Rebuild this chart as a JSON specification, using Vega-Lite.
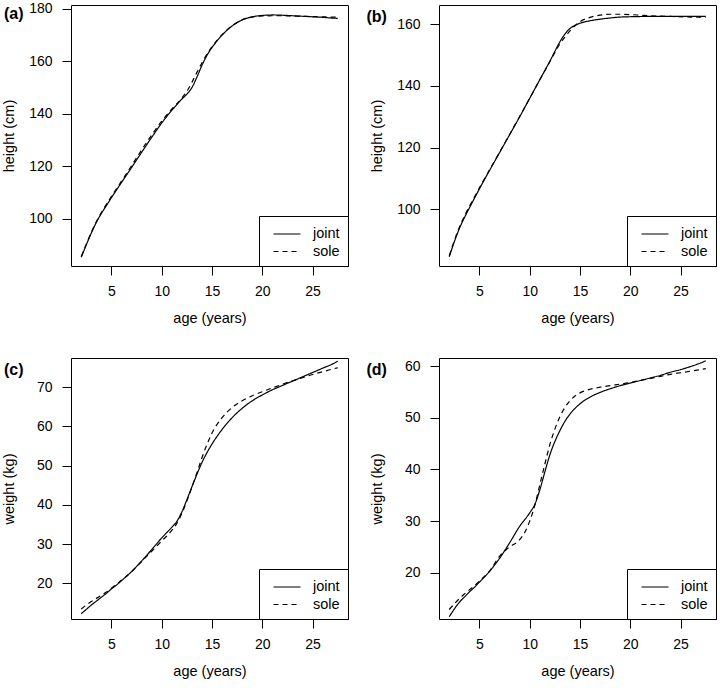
{
  "$schema": "https://vega.github.io/schema/vega-lite/v6.json",
  "autosize": {"type": "pad"},
  "padding": {"left": 0, "top": 1, "right": 0, "bottom": 10},
  "background": "white",
  "datasets": {
    "a": [
      {"age": 2, "value": 85.3, "fit": "joint"}, {"age": 2.5, "value": 90.0, "fit": "joint"}, {"age": 3, "value": 94.5, "fit": "joint"}, {"age": 3.5, "value": 98.6, "fit": "joint"}, {"age": 4, "value": 102.0, "fit": "joint"}, {"age": 4.5, "value": 105.0, "fit": "joint"}, {"age": 5, "value": 108.0, "fit": "joint"}, {"age": 6, "value": 113.8, "fit": "joint"}, {"age": 7, "value": 119.5, "fit": "joint"}, {"age": 8, "value": 125.3, "fit": "joint"}, {"age": 9, "value": 131.0, "fit": "joint"}, {"age": 10, "value": 136.5, "fit": "joint"}, {"age": 11, "value": 141.3, "fit": "joint"}, {"age": 12, "value": 145.6, "fit": "joint"}, {"age": 12.5, "value": 147.5, "fit": "joint"}, {"age": 13, "value": 150.0, "fit": "joint"}, {"age": 13.5, "value": 154.0, "fit": "joint"}, {"age": 14, "value": 158.5, "fit": "joint"}, {"age": 14.5, "value": 162.3, "fit": "joint"}, {"age": 15, "value": 165.3, "fit": "joint"}, {"age": 15.5, "value": 167.8, "fit": "joint"}, {"age": 16, "value": 170.0, "fit": "joint"}, {"age": 17, "value": 173.5, "fit": "joint"}, {"age": 18, "value": 175.8, "fit": "joint"}, {"age": 19, "value": 177.0, "fit": "joint"}, {"age": 20, "value": 177.5, "fit": "joint"}, {"age": 21, "value": 177.7, "fit": "joint"}, {"age": 22, "value": 177.6, "fit": "joint"}, {"age": 23, "value": 177.4, "fit": "joint"}, {"age": 24, "value": 177.2, "fit": "joint"}, {"age": 25, "value": 177.0, "fit": "joint"}, {"age": 26, "value": 176.8, "fit": "joint"}, {"age": 27, "value": 176.5, "fit": "joint"}, {"age": 27.5, "value": 176.4, "fit": "joint"},
      {"age": 2, "value": 85.6, "fit": "sole"}, {"age": 2.5, "value": 90.3, "fit": "sole"}, {"age": 3, "value": 94.8, "fit": "sole"}, {"age": 3.5, "value": 98.8, "fit": "sole"}, {"age": 4, "value": 102.3, "fit": "sole"}, {"age": 4.5, "value": 105.5, "fit": "sole"}, {"age": 5, "value": 108.5, "fit": "sole"}, {"age": 6, "value": 114.3, "fit": "sole"}, {"age": 7, "value": 120.2, "fit": "sole"}, {"age": 8, "value": 126.2, "fit": "sole"}, {"age": 9, "value": 131.9, "fit": "sole"}, {"age": 10, "value": 137.2, "fit": "sole"}, {"age": 11, "value": 141.8, "fit": "sole"}, {"age": 12, "value": 146.0, "fit": "sole"}, {"age": 12.5, "value": 148.6, "fit": "sole"}, {"age": 13, "value": 152.0, "fit": "sole"}, {"age": 13.5, "value": 155.8, "fit": "sole"}, {"age": 14, "value": 159.5, "fit": "sole"}, {"age": 14.5, "value": 162.8, "fit": "sole"}, {"age": 15, "value": 165.6, "fit": "sole"}, {"age": 15.5, "value": 168.0, "fit": "sole"}, {"age": 16, "value": 170.2, "fit": "sole"}, {"age": 17, "value": 173.6, "fit": "sole"}, {"age": 18, "value": 175.9, "fit": "sole"}, {"age": 19, "value": 176.9, "fit": "sole"}, {"age": 20, "value": 177.3, "fit": "sole"}, {"age": 21, "value": 177.4, "fit": "sole"}, {"age": 22, "value": 177.4, "fit": "sole"}, {"age": 23, "value": 177.3, "fit": "sole"}, {"age": 24, "value": 177.2, "fit": "sole"}, {"age": 25, "value": 177.1, "fit": "sole"}, {"age": 26, "value": 177.0, "fit": "sole"}, {"age": 27, "value": 176.9, "fit": "sole"}, {"age": 27.5, "value": 176.9, "fit": "sole"}
    ],
    "b": [
      {"age": 2, "value": 84.7, "fit": "joint"}, {"age": 2.5, "value": 89.5, "fit": "joint"}, {"age": 3, "value": 93.8, "fit": "joint"}, {"age": 3.5, "value": 97.3, "fit": "joint"}, {"age": 4, "value": 100.5, "fit": "joint"}, {"age": 4.5, "value": 103.6, "fit": "joint"}, {"age": 5, "value": 106.7, "fit": "joint"}, {"age": 6, "value": 112.6, "fit": "joint"}, {"age": 7, "value": 118.4, "fit": "joint"}, {"age": 8, "value": 124.2, "fit": "joint"}, {"age": 9, "value": 130.0, "fit": "joint"}, {"age": 10, "value": 136.0, "fit": "joint"}, {"age": 11, "value": 142.0, "fit": "joint"}, {"age": 12, "value": 148.0, "fit": "joint"}, {"age": 12.5, "value": 151.2, "fit": "joint"}, {"age": 13, "value": 154.3, "fit": "joint"}, {"age": 13.5, "value": 156.8, "fit": "joint"}, {"age": 14, "value": 158.6, "fit": "joint"}, {"age": 14.5, "value": 159.6, "fit": "joint"}, {"age": 15, "value": 160.3, "fit": "joint"}, {"age": 16, "value": 161.1, "fit": "joint"}, {"age": 17, "value": 161.6, "fit": "joint"}, {"age": 18, "value": 162.0, "fit": "joint"}, {"age": 19, "value": 162.3, "fit": "joint"}, {"age": 20, "value": 162.4, "fit": "joint"}, {"age": 22, "value": 162.5, "fit": "joint"}, {"age": 25, "value": 162.5, "fit": "joint"}, {"age": 27.5, "value": 162.5, "fit": "joint"},
      {"age": 2, "value": 85.0, "fit": "sole"}, {"age": 2.5, "value": 89.9, "fit": "sole"}, {"age": 3, "value": 94.2, "fit": "sole"}, {"age": 3.5, "value": 97.8, "fit": "sole"}, {"age": 4, "value": 101.0, "fit": "sole"}, {"age": 4.5, "value": 104.0, "fit": "sole"}, {"age": 5, "value": 107.0, "fit": "sole"}, {"age": 6, "value": 112.8, "fit": "sole"}, {"age": 7, "value": 118.5, "fit": "sole"}, {"age": 8, "value": 124.3, "fit": "sole"}, {"age": 9, "value": 130.1, "fit": "sole"}, {"age": 10, "value": 136.0, "fit": "sole"}, {"age": 11, "value": 142.0, "fit": "sole"}, {"age": 12, "value": 147.8, "fit": "sole"}, {"age": 12.5, "value": 150.8, "fit": "sole"}, {"age": 13, "value": 153.6, "fit": "sole"}, {"age": 13.5, "value": 155.8, "fit": "sole"}, {"age": 14, "value": 157.8, "fit": "sole"}, {"age": 14.5, "value": 159.5, "fit": "sole"}, {"age": 15, "value": 160.8, "fit": "sole"}, {"age": 16, "value": 162.2, "fit": "sole"}, {"age": 17, "value": 162.9, "fit": "sole"}, {"age": 18, "value": 163.2, "fit": "sole"}, {"age": 19, "value": 163.2, "fit": "sole"}, {"age": 20, "value": 163.1, "fit": "sole"}, {"age": 21, "value": 162.9, "fit": "sole"}, {"age": 22, "value": 162.7, "fit": "sole"}, {"age": 24, "value": 162.5, "fit": "sole"}, {"age": 26, "value": 162.3, "fit": "sole"}, {"age": 27.5, "value": 162.2, "fit": "sole"}
    ],
    "c": [
      {"age": 2, "value": 12.3, "fit": "joint"}, {"age": 2.5, "value": 13.4, "fit": "joint"}, {"age": 3, "value": 14.5, "fit": "joint"}, {"age": 3.5, "value": 15.5, "fit": "joint"}, {"age": 4, "value": 16.5, "fit": "joint"}, {"age": 4.5, "value": 17.5, "fit": "joint"}, {"age": 5, "value": 18.6, "fit": "joint"}, {"age": 5.5, "value": 19.6, "fit": "joint"}, {"age": 6, "value": 20.7, "fit": "joint"}, {"age": 7, "value": 23.0, "fit": "joint"}, {"age": 8, "value": 25.7, "fit": "joint"}, {"age": 9, "value": 28.6, "fit": "joint"}, {"age": 10, "value": 31.6, "fit": "joint"}, {"age": 11, "value": 34.3, "fit": "joint"}, {"age": 11.5, "value": 35.8, "fit": "joint"}, {"age": 12, "value": 38.2, "fit": "joint"}, {"age": 12.5, "value": 41.3, "fit": "joint"}, {"age": 13, "value": 44.6, "fit": "joint"}, {"age": 13.5, "value": 47.8, "fit": "joint"}, {"age": 14, "value": 50.8, "fit": "joint"}, {"age": 14.5, "value": 53.3, "fit": "joint"}, {"age": 15, "value": 55.5, "fit": "joint"}, {"age": 16, "value": 59.2, "fit": "joint"}, {"age": 17, "value": 62.2, "fit": "joint"}, {"age": 18, "value": 64.6, "fit": "joint"}, {"age": 19, "value": 66.5, "fit": "joint"}, {"age": 20, "value": 68.0, "fit": "joint"}, {"age": 21, "value": 69.3, "fit": "joint"}, {"age": 22, "value": 70.4, "fit": "joint"}, {"age": 23, "value": 71.5, "fit": "joint"}, {"age": 24, "value": 72.6, "fit": "joint"}, {"age": 25, "value": 73.7, "fit": "joint"}, {"age": 26, "value": 74.8, "fit": "joint"}, {"age": 27, "value": 75.9, "fit": "joint"}, {"age": 27.5, "value": 76.6, "fit": "joint"},
      {"age": 2, "value": 13.5, "fit": "sole"}, {"age": 2.5, "value": 14.5, "fit": "sole"}, {"age": 3, "value": 15.4, "fit": "sole"}, {"age": 3.5, "value": 16.2, "fit": "sole"}, {"age": 4, "value": 17.0, "fit": "sole"}, {"age": 4.5, "value": 17.8, "fit": "sole"}, {"age": 5, "value": 18.8, "fit": "sole"}, {"age": 5.5, "value": 19.8, "fit": "sole"}, {"age": 6, "value": 20.8, "fit": "sole"}, {"age": 7, "value": 23.0, "fit": "sole"}, {"age": 8, "value": 25.6, "fit": "sole"}, {"age": 9, "value": 28.2, "fit": "sole"}, {"age": 10, "value": 30.8, "fit": "sole"}, {"age": 11, "value": 33.5, "fit": "sole"}, {"age": 11.5, "value": 35.3, "fit": "sole"}, {"age": 12, "value": 37.8, "fit": "sole"}, {"age": 12.5, "value": 41.0, "fit": "sole"}, {"age": 13, "value": 44.5, "fit": "sole"}, {"age": 13.5, "value": 48.2, "fit": "sole"}, {"age": 14, "value": 52.0, "fit": "sole"}, {"age": 14.5, "value": 55.4, "fit": "sole"}, {"age": 15, "value": 58.3, "fit": "sole"}, {"age": 16, "value": 62.2, "fit": "sole"}, {"age": 17, "value": 64.8, "fit": "sole"}, {"age": 18, "value": 66.5, "fit": "sole"}, {"age": 19, "value": 67.8, "fit": "sole"}, {"age": 20, "value": 68.8, "fit": "sole"}, {"age": 21, "value": 69.8, "fit": "sole"}, {"age": 22, "value": 70.7, "fit": "sole"}, {"age": 23, "value": 71.6, "fit": "sole"}, {"age": 24, "value": 72.4, "fit": "sole"}, {"age": 25, "value": 73.2, "fit": "sole"}, {"age": 26, "value": 73.9, "fit": "sole"}, {"age": 27, "value": 74.6, "fit": "sole"}, {"age": 27.5, "value": 74.9, "fit": "sole"}
    ],
    "d": [
      {"age": 2, "value": 11.5, "fit": "joint"}, {"age": 2.5, "value": 13.0, "fit": "joint"}, {"age": 3, "value": 14.3, "fit": "joint"}, {"age": 3.5, "value": 15.3, "fit": "joint"}, {"age": 4, "value": 16.3, "fit": "joint"}, {"age": 4.5, "value": 17.2, "fit": "joint"}, {"age": 5, "value": 18.2, "fit": "joint"}, {"age": 5.5, "value": 19.2, "fit": "joint"}, {"age": 6, "value": 20.3, "fit": "joint"}, {"age": 7, "value": 22.8, "fit": "joint"}, {"age": 8, "value": 25.8, "fit": "joint"}, {"age": 9, "value": 29.0, "fit": "joint"}, {"age": 10, "value": 31.6, "fit": "joint"}, {"age": 10.5, "value": 33.2, "fit": "joint"}, {"age": 11, "value": 36.0, "fit": "joint"}, {"age": 11.5, "value": 39.5, "fit": "joint"}, {"age": 12, "value": 42.8, "fit": "joint"}, {"age": 12.5, "value": 45.4, "fit": "joint"}, {"age": 13, "value": 47.5, "fit": "joint"}, {"age": 13.5, "value": 49.3, "fit": "joint"}, {"age": 14, "value": 50.7, "fit": "joint"}, {"age": 14.5, "value": 51.8, "fit": "joint"}, {"age": 15, "value": 52.7, "fit": "joint"}, {"age": 16, "value": 54.0, "fit": "joint"}, {"age": 17, "value": 54.9, "fit": "joint"}, {"age": 18, "value": 55.6, "fit": "joint"}, {"age": 19, "value": 56.2, "fit": "joint"}, {"age": 20, "value": 56.7, "fit": "joint"}, {"age": 21, "value": 57.2, "fit": "joint"}, {"age": 22, "value": 57.7, "fit": "joint"}, {"age": 23, "value": 58.2, "fit": "joint"}, {"age": 24, "value": 58.8, "fit": "joint"}, {"age": 25, "value": 59.3, "fit": "joint"}, {"age": 26, "value": 59.9, "fit": "joint"}, {"age": 27, "value": 60.6, "fit": "joint"}, {"age": 27.5, "value": 61.0, "fit": "joint"},
      {"age": 2, "value": 12.9, "fit": "sole"}, {"age": 2.5, "value": 14.0, "fit": "sole"}, {"age": 3, "value": 15.0, "fit": "sole"}, {"age": 3.5, "value": 15.9, "fit": "sole"}, {"age": 4, "value": 16.7, "fit": "sole"}, {"age": 4.5, "value": 17.5, "fit": "sole"}, {"age": 5, "value": 18.4, "fit": "sole"}, {"age": 5.5, "value": 19.3, "fit": "sole"}, {"age": 6, "value": 20.3, "fit": "sole"}, {"age": 7, "value": 23.2, "fit": "sole"}, {"age": 7.5, "value": 24.2, "fit": "sole"}, {"age": 8, "value": 25.0, "fit": "sole"}, {"age": 9, "value": 26.4, "fit": "sole"}, {"age": 9.5, "value": 27.8, "fit": "sole"}, {"age": 10, "value": 30.0, "fit": "sole"}, {"age": 10.5, "value": 33.0, "fit": "sole"}, {"age": 11, "value": 37.0, "fit": "sole"}, {"age": 11.5, "value": 41.0, "fit": "sole"}, {"age": 12, "value": 44.8, "fit": "sole"}, {"age": 12.5, "value": 47.8, "fit": "sole"}, {"age": 13, "value": 50.2, "fit": "sole"}, {"age": 13.5, "value": 52.0, "fit": "sole"}, {"age": 14, "value": 53.3, "fit": "sole"}, {"age": 14.5, "value": 54.2, "fit": "sole"}, {"age": 15, "value": 54.8, "fit": "sole"}, {"age": 16, "value": 55.5, "fit": "sole"}, {"age": 17, "value": 55.9, "fit": "sole"}, {"age": 18, "value": 56.2, "fit": "sole"}, {"age": 19, "value": 56.5, "fit": "sole"}, {"age": 20, "value": 56.8, "fit": "sole"}, {"age": 21, "value": 57.2, "fit": "sole"}, {"age": 22, "value": 57.6, "fit": "sole"}, {"age": 23, "value": 58.0, "fit": "sole"}, {"age": 24, "value": 58.4, "fit": "sole"}, {"age": 25, "value": 58.7, "fit": "sole"}, {"age": 26, "value": 59.0, "fit": "sole"}, {"age": 27, "value": 59.3, "fit": "sole"}, {"age": 27.5, "value": 59.5, "fit": "sole"}
    ]
  },
  "columns": 2,
  "spacing": {"row": 92, "column": 91},
  "bounds": "flush",
  "concat": [
    {
      "width": 277, "height": 261,
      "title": {"text": "(a)", "dx": -67, "dy": 24},
      "data": {"name": "a"},
      "mark": {"type": "line", "interpolate": "monotone", "strokeWidth": 1.2, "color": "black"},
      "encoding": {
        "x": {"field": "age", "type": "quantitative", "scale": {"domain": [0.98, 28.52], "nice": false, "zero": false}, "axis": {"values": [5, 10, 15, 20, 25], "title": "age (years)", "titleX": 138.5, "titleY": 56}},
        "y": {"field": "value", "type": "quantitative", "scale": {"domain": [81.95, 181.5], "nice": false, "zero": false}, "axis": {"values": [100, 120, 140, 160, 180], "title": "height (cm)", "titleX": -58, "titleY": 130.5}},
        "strokeDash": {"field": "fit", "type": "nominal", "scale": {"domain": ["joint", "sole"], "range": [[1, 0], [5, 4]]}, "legend": {"orient": "bottom-right"}}
      }
    },
    {
      "width": 277, "height": 261,
      "title": {"text": "(b)", "dx": -72.5, "dy": 24},
      "data": {"name": "b"},
      "mark": {"type": "line", "interpolate": "monotone", "strokeWidth": 1.2, "color": "black"},
      "encoding": {
        "x": {"field": "age", "type": "quantitative", "scale": {"domain": [0.98, 28.52], "nice": false, "zero": false}, "axis": {"values": [5, 10, 15, 20, 25], "title": "age (years)", "titleX": 138.5, "titleY": 56}},
        "y": {"field": "value", "type": "quantitative", "scale": {"domain": [81.7, 166.2], "nice": false, "zero": false}, "axis": {"values": [100, 120, 140, 160], "title": "height (cm)", "titleX": -58, "titleY": 130.5}},
        "strokeDash": {"field": "fit", "type": "nominal", "scale": {"domain": ["joint", "sole"], "range": [[1, 0], [5, 4]]}, "legend": {"orient": "bottom-right"}}
      }
    },
    {
      "width": 277, "height": 261,
      "title": {"text": "(c)", "dx": -67, "dy": 24},
      "data": {"name": "c"},
      "mark": {"type": "line", "interpolate": "monotone", "strokeWidth": 1.2, "color": "black"},
      "encoding": {
        "x": {"field": "age", "type": "quantitative", "scale": {"domain": [0.98, 28.52], "nice": false, "zero": false}, "axis": {"values": [5, 10, 15, 20, 25], "title": "age (years)", "titleX": 138.5, "titleY": 56}},
        "y": {"field": "value", "type": "quantitative", "scale": {"domain": [10.95, 77.4], "nice": false, "zero": false}, "axis": {"values": [20, 30, 40, 50, 60, 70], "title": "weight (kg)", "titleX": -58, "titleY": 130.5}},
        "strokeDash": {"field": "fit", "type": "nominal", "scale": {"domain": ["joint", "sole"], "range": [[1, 0], [5, 4]]}, "legend": {"orient": "bottom-right"}}
      }
    },
    {
      "width": 277, "height": 261,
      "title": {"text": "(d)", "dx": -72.5, "dy": 24},
      "data": {"name": "d"},
      "mark": {"type": "line", "interpolate": "monotone", "strokeWidth": 1.2, "color": "black"},
      "encoding": {
        "x": {"field": "age", "type": "quantitative", "scale": {"domain": [0.98, 28.52], "nice": false, "zero": false}, "axis": {"values": [5, 10, 15, 20, 25], "title": "age (years)", "titleX": 138.5, "titleY": 56}},
        "y": {"field": "value", "type": "quantitative", "scale": {"domain": [11.07, 61.55], "nice": false, "zero": false}, "axis": {"values": [20, 30, 40, 50, 60], "title": "weight (kg)", "titleX": -58, "titleY": 130.5}},
        "strokeDash": {"field": "fit", "type": "nominal", "scale": {"domain": ["joint", "sole"], "range": [[1, 0], [5, 4]]}, "legend": {"orient": "bottom-right"}}
      }
    }
  ],
  "resolve": {"scale": {"strokeDash": "independent", "x": "independent", "y": "independent"}, "legend": {"strokeDash": "independent"}},
  "config": {
    "font": "Liberation Sans",
    "view": {"stroke": "#000", "strokeWidth": 1},
    "axis": {
      "domain": false, "grid": false,
      "tickColor": "#000", "tickSize": 9, "tickWidth": 1,
      "labelFont": "Liberation Sans", "labelFontSize": 14, "labelColor": "#000",
      "titleFont": "Liberation Sans", "titleFontSize": 14.5, "titleFontWeight": "normal", "titleColor": "#000",
      "titleBaseline": "alphabetic"
    },
    "axisX": {"labelPadding": 9, "labelAngle": 0},
    "axisY": {"labelPadding": 10},
    "legend": {
      "title": null, "offset": 0, "padding": 8,
      "strokeColor": "#000", "strokeWidth": 1, "fillColor": "white", "cornerRadius": 0,
      "symbolType": "M-1.5,0H1.5", "symbolSize": 324, "symbolStrokeWidth": 1.2, "symbolStrokeColor": "#000", "symbolFillColor": "transparent",
      "symbolOffset": 10,
      "labelFont": "Liberation Sans", "labelFontSize": 14.5, "labelColor": "#000", "labelOffset": 16,
      "rowPadding": 0.5
    },
    "title": {"font": "Liberation Sans", "fontSize": 16, "fontWeight": "bold", "color": "#000", "anchor": "start", "frame": "group", "offset": 0, "baseline": "alphabetic"}
  }
}
